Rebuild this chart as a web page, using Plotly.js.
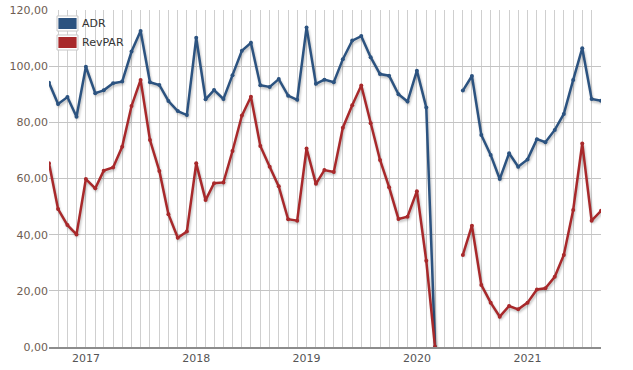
<!DOCTYPE html>
<html>
<head>
<meta charset="utf-8">
<script src="https://cdn.plot.ly/plotly-3.0.1.min.js"></script>
<style>
html,body{margin:0;padding:0;background:#fff;}
#chart{width:633px;height:370px;}
.scatterlayer .trace path.js-line{filter:drop-shadow(1px 2px 1px rgba(0,0,0,0.25));}
</style>
</head>
<body>
<div id="chart"></div>
<script>
// Monthly, Sep 2016 .. Sep 2021
const months = [
 "2016-09-01","2016-10-01","2016-11-01","2016-12-01",
 "2017-01-01","2017-02-01","2017-03-01","2017-04-01","2017-05-01","2017-06-01","2017-07-01","2017-08-01","2017-09-01","2017-10-01","2017-11-01","2017-12-01",
 "2018-01-01","2018-02-01","2018-03-01","2018-04-01","2018-05-01","2018-06-01","2018-07-01","2018-08-01","2018-09-01","2018-10-01","2018-11-01","2018-12-01",
 "2019-01-01","2019-02-01","2019-03-01","2019-04-01","2019-05-01","2019-06-01","2019-07-01","2019-08-01","2019-09-01","2019-10-01","2019-11-01","2019-12-01",
 "2020-01-01","2020-02-01","2020-03-01","2020-04-01","2020-05-01","2020-06-01","2020-07-01","2020-08-01","2020-09-01","2020-10-01","2020-11-01","2020-12-01",
 "2021-01-01","2021-02-01","2021-03-01","2021-04-01","2021-05-01","2021-06-01","2021-07-01","2021-08-01","2021-09-01"
];
const adr = [
 94.1, 86.5, 89.0, 82.0,
 99.8, 90.4, 91.4, 93.9, 94.5, 105.2, 112.5, 94.3, 93.3, 87.6, 84.0, 82.6,
 110.1, 88.2, 91.5, 88.3, 96.8, 105.5, 108.3, 93.2, 92.6, 95.4, 89.5, 88.0,
 113.8, 93.7, 95.2, 94.3, 102.5, 109.1, 110.7, 103.2, 97.2, 96.6, 90.0, 87.4,
 98.4, 85.3, 0, null, null, 91.3, 96.5, 75.5, 68.4, 59.8, 69.0, 64.2,
 66.8, 74.0, 72.9, 77.3, 83.0, 95.1, 106.4, 88.3, 87.7
];
const revpar = [
 65.4, 49.1, 43.4, 40.1,
 59.8, 56.5, 62.8, 63.9, 71.3, 85.8, 95.1, 73.7, 62.7, 47.3, 38.9, 41.1,
 65.4, 52.3, 58.3, 58.6, 69.8, 82.4, 89.1, 71.6, 64.2, 57.2, 45.5, 45.0,
 70.7, 58.1, 63.0, 62.3, 78.1, 86.1, 93.1, 79.7, 66.6, 56.9, 45.6, 46.4,
 55.5, 30.7, 0, null, null, 32.8, 43.2, 22.1, 15.8, 10.8, 14.6, 13.4,
 15.8, 20.5, 20.9, 25.0, 32.8, 48.8, 72.5, 45.0, 48.5
];
const seriesNames = ["ADR", "RevPAR"];
const colors = ["#2c5380", "#a8292b"];

const traces = [adr, revpar].map((vals, i) => ({
  type: "scatter", mode: "lines+markers", x: months, y: vals,
  name: seriesNames[i], showlegend: false, connectgaps: false,
  line: {color: colors[i], width: 2.5},
  marker: {color: colors[i], size: 4},
  hoverinfo: "x+y"
}));

// custom legend (swatch rectangles + labels) in paper coordinates
const shapes = [], annotations = [];
const legendRows = [{y0: 0.9436, y1: 0.9763, ty: 0.960}, {y0: 0.8872, y1: 0.9199, ty: 0.9036}];
seriesNames.forEach((n, i) => {
  const r = legendRows[i];
  shapes.push({type: "rect", xref: "paper", yref: "paper", x0: 0.0145, x1: 0.0525, y0: r.y0 - 0.006, y1: r.y1 + 0.006,
               fillcolor: "#fff", line: {color: "#c8c8c8", width: 1}, layer: "above"});
  shapes.push({type: "rect", xref: "paper", yref: "paper", x0: 0.0170, x1: 0.0500, y0: r.y0, y1: r.y1,
               fillcolor: colors[i], line: {width: 0}, layer: "above"});
  annotations.push({xref: "paper", yref: "paper", x: 0.0565, y: r.ty, xanchor: "left", yanchor: "middle",
                    text: n, showarrow: false, font: {size: 11, color: "#333"}});
});

const layout = {
  width: 633, height: 370,
  margin: {l: 49, r: 32, t: 10, b: 23},
  paper_bgcolor: "#fff", plot_bgcolor: "#fff",
  separators: ", ",
  font: {family: "DejaVu Sans, Verdana, sans-serif", size: 11, color: "#555"},
  showlegend: false,
  shapes: shapes, annotations: annotations,
  xaxis: {
    type: "date", range: ["2016-09-01", "2021-09-01"],
    tick0: "2017-01-01", dtick: "M12", tickformat: "%Y",
    showgrid: true, gridcolor: "#cfcfcf", gridwidth: 1,
    minor: {dtick: "M1", showgrid: true, gridcolor: "#cfcfcf", gridwidth: 1},
    showline: true, linecolor: "#8c8c8c", linewidth: 2,
    ticks: "", zeroline: false,
    tickfont: {size: 11, color: "#555"}
  },
  yaxis: {
    range: [0, 120], dtick: 20, tickformat: ".2f",
    showgrid: true, gridcolor: "#c4c4c4", gridwidth: 1,
    zeroline: false, showline: false, ticks: "",
    tickfont: {size: 11, color: "#6e5d52"}
  }
};
Plotly.newPlot("chart", traces, layout, {displayModeBar: false, staticPlot: true});
</script>
</body>
</html>
